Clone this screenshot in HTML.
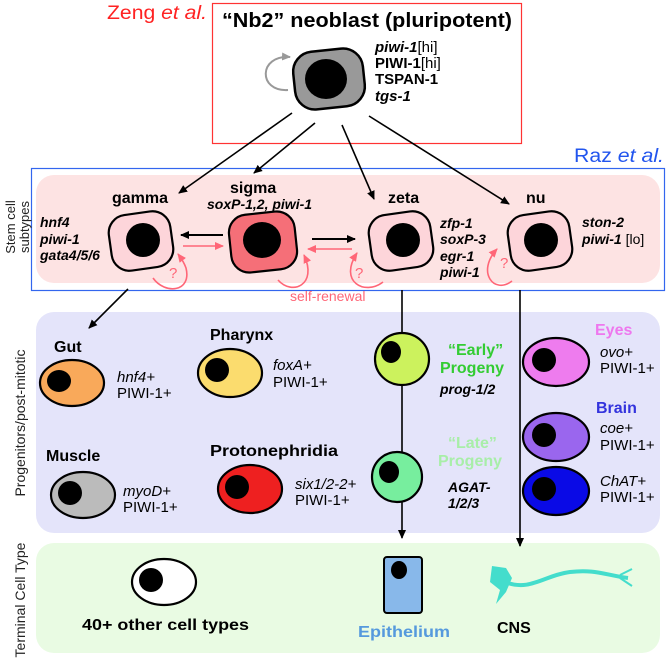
<!DOCTYPE html>
<html><head><meta charset="utf-8"><style>
html,body{margin:0;padding:0;background:#fff}
svg{display:block;font-family:"Liberation Sans",Arial,sans-serif}
.b{font-weight:bold}.i{font-style:italic}
</style></head><body>
<svg width="666" height="668" viewBox="0 0 666 668" xmlns="http://www.w3.org/2000/svg">
<defs>
<marker id="ak" markerWidth="10" markerHeight="10" refX="8" refY="5" orient="auto" markerUnits="userSpaceOnUse"><path d="M0,1 L9,5 L0,9 Z" fill="#000"/></marker>
<marker id="ap" markerWidth="10" markerHeight="10" refX="8" refY="5" orient="auto" markerUnits="userSpaceOnUse"><path d="M0,1 L9,5 L0,9 Z" fill="#ff6677"/></marker>
<marker id="ag" markerWidth="10" markerHeight="10" refX="8" refY="5" orient="auto" markerUnits="userSpaceOnUse"><path d="M0,1 L9,5 L0,9 Z" fill="#999"/></marker>
</defs>

<rect x="36" y="175" width="624" height="108" rx="18" fill="#fde3e3"/>
<rect x="36" y="312" width="624" height="221" rx="18" fill="#e4e4fa"/>
<rect x="36" y="543" width="624" height="110" rx="18" fill="#e9fbe3"/>
<rect x="212.5" y="3.5" width="309" height="140" fill="none" stroke="#ff3333" stroke-width="1.2"/>
<rect x="31.5" y="168.5" width="633" height="122" fill="none" stroke="#3366ee" stroke-width="1.2"/>

<text x="107" y="19" font-size="19" fill="#ff2222" textLength="100" lengthAdjust="spacingAndGlyphs">Zeng <tspan class="i">et al.</tspan></text>
<text x="222" y="27" font-size="20" class="b" textLength="290" lengthAdjust="spacingAndGlyphs">“Nb2” neoblast (pluripotent)</text>
<path d="M288,90 C258,92 258,55 290,57" fill="none" stroke="#999" stroke-width="2" marker-end="url(#ag)"/>
<rect x="294" y="50" width="70" height="58" rx="20" fill="#999" stroke="#000" stroke-width="2.5" transform="rotate(-6 329 79)"/>
<ellipse cx="326" cy="79" rx="21" ry="20" fill="#000"/>
<g font-size="15" class="b">
<text x="375" y="52"><tspan class="i">piwi-1</tspan><tspan font-weight="normal">[hi]</tspan></text>
<text x="375" y="68">PIWI-1<tspan font-weight="normal">[hi]</tspan></text>
<text x="375" y="84">TSPAN-1</text>
<text x="375" y="101" class="i">tgs-1</text>
</g>
<g stroke="#000" stroke-width="1.6" fill="none" marker-end="url(#ak)">
<line x1="292" y1="113" x2="179" y2="193"/>
<line x1="315" y1="123" x2="254" y2="173"/>
<line x1="342" y1="125" x2="374" y2="199"/>
<line x1="369" y1="116" x2="509" y2="204"/>
</g>
<text x="574" y="162" font-size="19" fill="#2255ee" textLength="90" lengthAdjust="spacingAndGlyphs">Raz <tspan class="i">et al.</tspan></text>

<g font-size="16" class="b">
<text x="112" y="203">gamma</text>
<text x="230" y="193">sigma</text>
<text x="207" y="209" class="i" font-size="14">soxP-1,2, piwi-1</text>
<text x="388" y="203">zeta</text>
<text x="526" y="203">nu</text>
</g>
<g font-size="14" class="b i">
<text x="40" y="227">hnf4</text><text x="40" y="244">piwi-1</text><text x="40" y="260">gata4/5/6</text>
<text x="440" y="228">zfp-1</text><text x="440" y="244">soxP-3</text><text x="440" y="261">egr-1</text><text x="440" y="277">piwi-1</text>
<text x="582" y="227">ston-2</text><text x="582" y="244">piwi-1 <tspan font-style="normal" font-weight="normal">[lo]</tspan></text>
</g>
<g stroke="#000" stroke-width="2.2">
<rect x="110" y="213" width="62" height="56" rx="18" fill="#fdd5da" transform="rotate(-8 141 241)"/>
<rect x="230" y="213" width="66" height="58" rx="18" fill="#f56f78" transform="rotate(-6 263 242)"/>
<rect x="370" y="213" width="62" height="56" rx="18" fill="#fdd5da" transform="rotate(-8 401 241)"/>
<rect x="509" y="213" width="62" height="56" rx="18" fill="#fdd5da" transform="rotate(-8 540 241)"/>
</g>
<ellipse cx="143" cy="240" rx="17" ry="17" fill="#000"/>
<ellipse cx="262" cy="240" rx="19" ry="18" fill="#000"/>
<ellipse cx="403" cy="240" rx="17" ry="17" fill="#000"/>
<ellipse cx="541" cy="240" rx="17" ry="17" fill="#000"/>
<g stroke="#000" stroke-width="2" marker-end="url(#ak)">
<line x1="223" y1="235" x2="181" y2="235"/>
<line x1="312" y1="239" x2="355" y2="239"/>
</g>
<g stroke="#ff6677" stroke-width="1.6" fill="none" marker-end="url(#ap)">
<line x1="183" y1="246" x2="223" y2="246"/>
<line x1="352" y1="249" x2="308" y2="249"/>
<path d="M153,278 C165,295 192,292 186,268 C184,262 181,258 178,254"/>
<path d="M278,280 C292,296 318,285 304,255"/>
<path d="M383,282 C365,296 338,282 357,253"/>
<path d="M512,281 C494,295 476,272 497,249"/>
</g>
<g fill="#ff6677" font-size="15">
<text x="169" y="278">?</text><text x="355" y="278">?</text><text x="500" y="268">?</text>
<text x="290" y="301" font-size="14">self-renewal</text>
</g>

<line x1="128" y1="289" x2="89" y2="328" stroke="#000" stroke-width="1.6" marker-end="url(#ak)"/>
<line x1="402" y1="290" x2="402" y2="538" stroke="#000" stroke-width="1.6" marker-end="url(#ak)"/>
<line x1="520" y1="290" x2="520" y2="546" stroke="#000" stroke-width="1.6" marker-end="url(#ak)"/>

<g font-size="16" class="b">
<text x="54" y="352">Gut</text>
<text x="210" y="340">Pharynx</text>
<text x="46" y="461">Muscle</text>
<text x="210" y="456" textLength="128" lengthAdjust="spacingAndGlyphs">Protonephridia</text>
<text x="595" y="335" fill="#ee77ee">Eyes</text>
<text x="596" y="413" fill="#3333dd">Brain</text>
<text x="448" y="355" fill="#33cc33">“Early”</text>
<text x="440" y="373" fill="#33cc33">Progeny</text>
<text x="448" y="448" fill="#a8eea8">“Late”</text>
<text x="438" y="466" fill="#a8eea8">Progeny</text>
</g>
<g font-size="14" class="b i">
<text x="440" y="394">prog-1/2</text>
<text x="448" y="492">AGAT-</text>
<text x="448" y="508">1/2/3</text>
</g>
<g stroke="#000" stroke-width="2.2">
<ellipse cx="72" cy="383" rx="32" ry="23" fill="#f9a95a"/>
<ellipse cx="230" cy="373" rx="32" ry="24" fill="#fbdc6e"/>
<ellipse cx="402" cy="359" rx="27" ry="26" fill="#ccf25d"/>
<ellipse cx="556" cy="362" rx="33" ry="24" fill="#ee7cee"/>
<ellipse cx="556" cy="437" rx="33" ry="24" fill="#9a66ee"/>
<ellipse cx="556" cy="491" rx="33" ry="24" fill="#0a0ae6"/>
<ellipse cx="83" cy="495" rx="32" ry="23" fill="#bbbbbb"/>
<ellipse cx="250" cy="489" rx="32" ry="24" fill="#ee2020"/>
<ellipse cx="397" cy="477" rx="25" ry="25" fill="#77ee9e"/>
</g>
<g fill="#000">
<ellipse cx="59" cy="381" rx="12" ry="11"/>
<ellipse cx="217" cy="370" rx="12" ry="12"/>
<ellipse cx="391" cy="352" rx="10" ry="11"/>
<ellipse cx="544" cy="360" rx="12" ry="12"/>
<ellipse cx="544" cy="435" rx="12" ry="12"/>
<ellipse cx="544" cy="489" rx="12" ry="12"/>
<ellipse cx="70" cy="493" rx="12" ry="12"/>
<ellipse cx="237" cy="487" rx="12" ry="12"/>
<ellipse cx="389" cy="472" rx="10" ry="11"/>
</g>
<g font-size="15">
<text x="117" y="382" class="i">hnf4+</text><text x="117" y="398">PIWI-1+</text>
<text x="273" y="370" class="i">foxA+</text><text x="273" y="387">PIWI-1+</text>
<text x="600" y="357" class="i">ovo+</text><text x="600" y="373">PIWI-1+</text>
<text x="600" y="433" class="i">coe+</text><text x="600" y="450">PIWI-1+</text>
<text x="600" y="486" class="i">ChAT+</text><text x="600" y="502">PIWI-1+</text>
<text x="123" y="496" class="i">myoD+</text><text x="123" y="512">PIWI-1+</text>
<text x="295" y="489" class="i">six1/2-2+</text><text x="295" y="505">PIWI-1+</text>
</g>

<ellipse cx="164" cy="582" rx="32" ry="23" fill="#fff" stroke="#000" stroke-width="2.2"/>
<ellipse cx="151" cy="580" rx="12" ry="12" fill="#000"/>
<text x="82" y="630" font-size="16" class="b" textLength="167" lengthAdjust="spacingAndGlyphs">40+ other cell types</text>
<rect x="384" y="557" width="38" height="56" rx="3" fill="#88b8ea" stroke="#000" stroke-width="2"/>
<ellipse cx="399" cy="570" rx="8" ry="9" fill="#000"/>
<text x="358" y="637" font-size="16" class="b" fill="#5599dd" textLength="92" lengthAdjust="spacingAndGlyphs">Epithelium</text>
<g fill="#44ddcc" stroke="#44ddcc">
<path d="M492,566 L506,568 L512,578 L506,592 L496,604 L500,590 L490,582 Z" stroke="none"/>
<path d="M505,582 C530,592 545,575 570,572 C595,569 605,575 628,578" fill="none" stroke-width="4"/>
<path d="M620,575 L632,569 M620,578 L632,586" fill="none" stroke-width="2"/>
</g>
<text x="497" y="633" font-size="16" class="b">CNS</text>

<g font-size="13" fill="#222">
<text transform="translate(15 227) rotate(-90)" text-anchor="middle">Stem cell</text>
<text transform="translate(29 227) rotate(-90)" text-anchor="middle">subtypes</text>
<text transform="translate(25 423) rotate(-90)" text-anchor="middle" font-size="14">Progenitors/post-mitotic</text>
<text transform="translate(25 600) rotate(-90)" text-anchor="middle" font-size="14">Terminal Cell Type</text>
</g>
</svg>
</body></html>
